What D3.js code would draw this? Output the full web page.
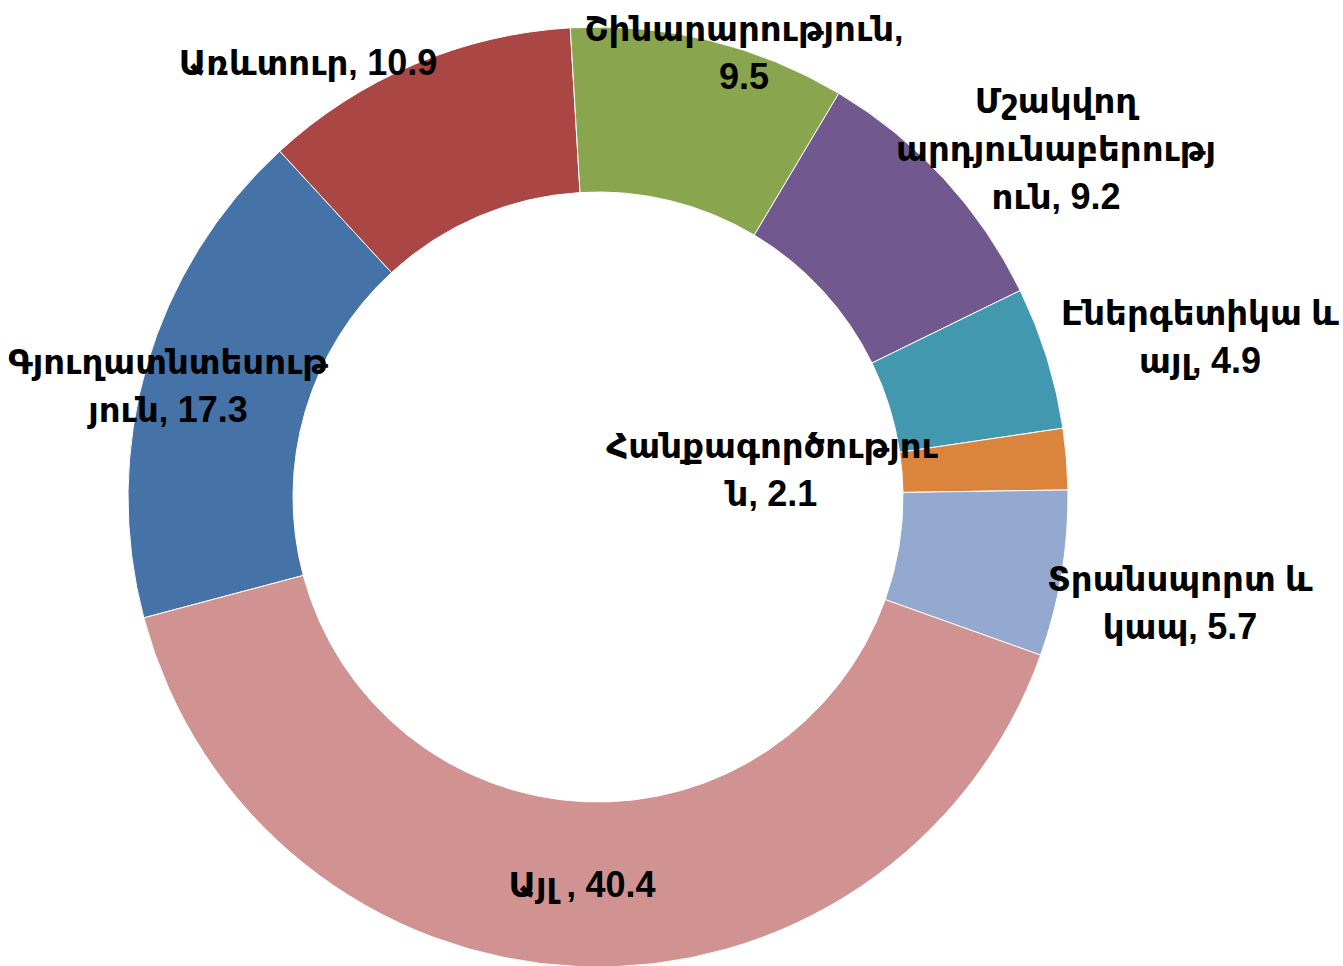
<!DOCTYPE html>
<html lang="hy">
<head>
  <meta charset="UTF-8">
  <title>Donut</title>
  <script src="https://d3js.org/d3.v7.min.js"></script>
  <style>
    body { margin: 0; background: #fff; }
    svg { display: block; }
    .lbl {
      font-family: "Liberation Sans", "DejaVu Sans", sans-serif;
      font-weight: bold;
      font-size: 34px;
      fill: #000;
    }
    .lbl .num { font-size: 36px; }
  </style>
</head>
<body>
  <svg id="chart" width="1343" height="966"></svg>

  <script>
    // chart data
    const sectors = ["Գյուղատնտեսություն", "Առևտուր", "Շինարարություն", "Մշակվող արդյունաբերություն",
                     "Էներգետիկա և այլ", "Հանքագործություն", "Տրանսպորտ և կապ", "Այլ"];
    const shares = [17.3, 10.9, 9.5, 9.2, 4.9, 2.1, 5.7, 40.4];
    // name part of each data label, wrapped as in the picture (value is appended)
    const labelLines = [
      ["Գյուղատնտեսութ", "յուն, "],
      ["Առևտուր, "],
      ["Շինարարություն,", ""],
      ["Մշակվող", "արդյունաբերությ", "ուն, "],
      ["Էներգետիկա և", "այլ, "],
      ["Հանքագործությու", "ն, "],
      ["Տրանսպորտ և", "կապ, "],
      ["Այլ , "]
    ];
    const colors = ["#4572A7", "#AA4643", "#89A54E", "#71588F", "#4198AF", "#DB843D", "#93A9CF", "#D19392"];

    // label anchors (center x, first baseline y)
    const labelPos = [[168, 374], [308, 75], [744, 41], [1056, 113], [1200, 325], [772, 458], [1180, 591], [582, 897]];

    const svg = d3.select("#chart");
    const cx = 598, cy = 497;
    const outerR = 470, innerR = 305;
    const lineH = 48;

    const start = -104.9 * Math.PI / 180;
    const pie = d3.pie().sort(null).value(d => d)
      .startAngle(start).endAngle(start + 2 * Math.PI);
    const arc = d3.arc().innerRadius(innerR).outerRadius(outerR);

    const g = svg.append("g").attr("transform", `translate(${cx},${cy})`);

    g.selectAll("path")
      .data(pie(shares))
      .join("path")
      .attr("d", arc)
      .attr("fill", (d, i) => colors[i])
      .attr("stroke", "#fff")
      .attr("stroke-width", 1);

    // data labels
    const labels = svg.append("g")
      .selectAll("text")
      .data(sectors)
      .join("text")
      .attr("class", "lbl")
      .attr("text-anchor", "middle")
      .attr("x", (d, i) => labelPos[i][0])
      .attr("y", (d, i) => labelPos[i][1]);

    labels.each(function(d, i) {
      const t = d3.select(this);
      const lines = labelLines[i];
      lines.forEach((ln, j) => {
        const ts = t.append("tspan")
          .attr("x", labelPos[i][0])
          .attr("dy", j === 0 ? 0 : lineH)
          .text(ln);
        if (j === lines.length - 1) {
          ts.append("tspan").attr("class", "num").text(shares[i]);
        }
      });
    });
  </script>
</body>
</html>
